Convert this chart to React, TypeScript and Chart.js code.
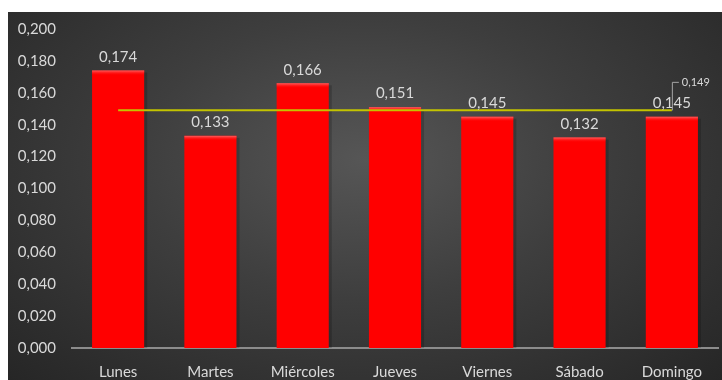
import React, { useEffect, useRef } from "react";
import { Chart, registerables } from "chart.js";

Chart.register(...registerables);

const categories = ["Lunes", "Martes", "Miércoles", "Jueves", "Viernes", "Sábado", "Domingo"];
const values = [0.174, 0.133, 0.166, 0.151, 0.145, 0.132, 0.145];
const averageValues = [0.149, 0.149, 0.149, 0.149, 0.149, 0.149, 0.149];
const yTicks = [0, 0.02, 0.04, 0.06, 0.08, 0.1, 0.12, 0.14, 0.16, 0.18, 0.2];

const FONT = "Lato, 'Open Sans', sans-serif";
const TEXT = "#d9d9d9";

const fmt = (v: number) => v.toFixed(3).replace(".", ",");

const barDecor = {
  id: "barDecor",
  afterDatasetDraw(chart: any, args: any) {
    if (args.index !== 0) return;
    const ctx = chart.ctx;
    const meta = chart.getDatasetMeta(0);
    ctx.save();
    meta.data.forEach((bar: any) => {
      const w = bar.width;
      const x0 = bar.x - w / 2;
      const y0 = bar.y;
      const g = ctx.createLinearGradient(0, y0, 0, y0 + 5);
      g.addColorStop(0, "rgba(255,120,120,0.8)");
      g.addColorStop(1, "rgba(255,0,0,0)");
      ctx.fillStyle = g;
      ctx.fillRect(x0, y0, w, 5);
      ctx.fillStyle = "rgba(0,0,0,0.18)";
      ctx.fillRect(x0 + w, y0 + 2, 3, bar.base - y0 - 2);
    });
    ctx.restore();
  },
};

const labelsPlugin = {
  id: "valueLabels",
  afterDatasetsDraw(chart: any) {
    const ctx = chart.ctx;
    const meta = chart.getDatasetMeta(0);
    ctx.save();
    ctx.fillStyle = TEXT;
    ctx.font = `15px ${FONT}`;
    ctx.textAlign = "center";
    ctx.textBaseline = "bottom";
    meta.data.forEach((bar: any, i: number) => {
      ctx.fillText(fmt(values[i]), bar.x, bar.y - 6);
    });
    const lm = chart.getDatasetMeta(1);
    const last = lm.data[lm.data.length - 1];
    if (last) {
      const x = last.x;
      const y = last.y;
      ctx.strokeStyle = "#a6a6a6";
      ctx.lineWidth = 1;
      ctx.beginPath();
      ctx.moveTo(x + 0.5, y);
      ctx.lineTo(x + 0.5, y - 28);
      ctx.lineTo(x + 7, y - 28);
      ctx.stroke();
      ctx.font = `11px ${FONT}`;
      ctx.textAlign = "left";
      ctx.textBaseline = "middle";
      ctx.fillStyle = TEXT;
      ctx.fillText(fmt(averageValues[averageValues.length - 1]), x + 10, y - 28);
    }
    ctx.restore();
  },
};

export default function App() {
  const ref = useRef<HTMLCanvasElement | null>(null);
  useEffect(() => {
    if (!ref.current) return;
    const chart = new Chart(ref.current, {
      type: "bar",
      data: {
        labels: categories,
        datasets: [
          {
            type: "bar",
            data: values,
            backgroundColor: "#ff0000",
            borderWidth: 0,
            categoryPercentage: 1,
            barPercentage: 0.565,
            order: 1,
          },
          {
            type: "line",
            data: averageValues,
            borderColor: "#c3c300",
            borderWidth: 2,
            pointRadius: 0,
            fill: false,
            order: 0,
          } as any,
        ],
      },
      options: {
        animation: false,
        responsive: false,
        maintainAspectRatio: false,
        layout: { padding: { top: 17, right: 4, left: 0, bottom: 0 } },
        plugins: { legend: { display: false }, tooltip: { enabled: false } },
        scales: {
          x: {
            grid: { display: false, drawTicks: false },
            border: { display: true, color: "#8c8c8c", width: 2 },
            ticks: { color: TEXT, font: { family: FONT, size: 15 }, padding: 15 },
            afterFit: (s: any) => {
              s.height = 32;
            },
          },
          y: {
            min: 0,
            max: 0.2,
            grid: { display: false, drawTicks: false },
            border: { display: false },
            afterBuildTicks: (s: any) => {
              s.ticks = yTicks.map((v) => ({ value: v }));
            },
            ticks: {
              color: TEXT,
              font: { family: FONT, size: 15 },
              padding: 16,
              callback: (v: any) => fmt(Number(v)),
            },
            afterFit: (s: any) => {
              s.width = 64;
              s.paddingTop = 0;
              s.paddingBottom = 0;
            },
          },
        },
      },
      plugins: [barDecor, labelsPlugin],
    });
    return () => chart.destroy();
  }, []);

  return (
    <div
      style={{
        position: "absolute",
        left: 8,
        top: 12,
        width: 714,
        height: 368,
        background: "radial-gradient(ellipse at 50% 40%, #565656 0%, #3e3e3e 45%, #262626 100%)",
      }}
    >
      <canvas ref={ref} width={714} height={368} style={{ display: "block" }} />
    </div>
  );
}
